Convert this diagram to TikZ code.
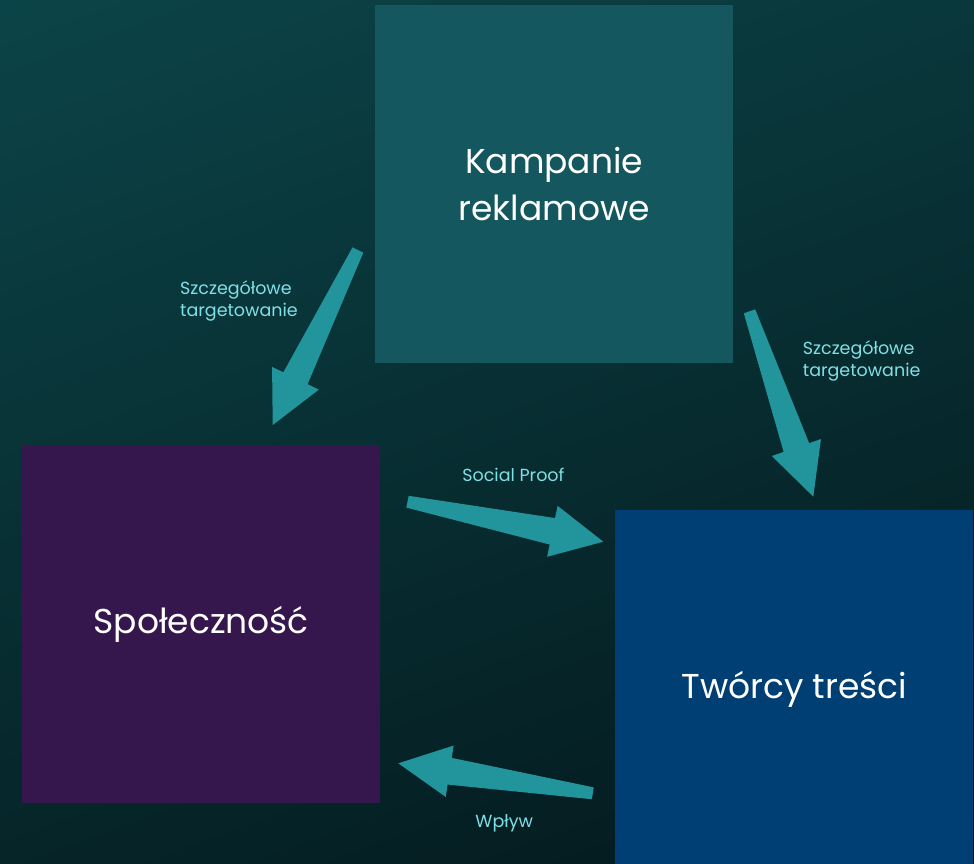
\documentclass[tikz,border=0pt]{standalone}
\usepackage{fontspec}
\setmainfont{Poppins}
\usetikzlibrary{calc}
\definecolor{bgtop}{HTML}{0C474B}
\definecolor{bgbot}{HTML}{031519}
\definecolor{kamp}{HTML}{14575E}
\definecolor{spol}{HTML}{36174D}
\definecolor{tworcy}{HTML}{003F73}
\definecolor{arr}{HTML}{21949C}
\definecolor{lbl}{HTML}{7FE0E6}
\tikzset{
  box/.style={rectangle, minimum width=358pt, minimum height=358pt, inner sep=0pt,
    text=white, font=\fontsize{34.5}{47}\selectfont, align=center, anchor=north west},
  lab/.style={text=lbl, font=\fontsize{17.5}{22}\selectfont, inner sep=0pt, align=left},
  arrowfill/.style={fill=arr},
}
\newcommand\blockarrow[2]{%
  \coordinate (bh) at ($(#2)!52pt!(#1)$);
  \fill[arrowfill] ($(#1)!6pt!90:(#2)$) -- ($(bh)!13.5pt!90:(#2)$) -- ($(bh)!26pt!90:(#2)$)
    -- (#2) -- ($(bh)!26pt!-90:(#2)$) -- ($(bh)!13.5pt!-90:(#2)$) -- ($(#1)!6pt!-90:(#2)$) -- cycle;
}
\begin{document}
\begin{tikzpicture}[x=1pt,y=-1pt]
\useasboundingbox (0,0) rectangle (974,864);
\clip (0,0) rectangle (974,864);
\shade[top color=bgtop, bottom color=bgbot, shading angle=20] (-200,-200) rectangle (1174,1064);

\node[box, fill=kamp] (kamp) at (375,5) {Kampanie\\reklamowe};
\node[box, fill=spol] (spol) at (22,445) {Społeczność};
\node[box, fill=tworcy] (tw) at (615,510) {Twórcy treści};

\coordinate (aT) at (357.9,250);   \coordinate (aP) at (272.7,425);
\coordinate (bT) at (749.5,311.3); \coordinate (bP) at (813.3,496.7);
\coordinate (cT) at (407.5,501.7); \coordinate (cP) at (603.3,541.7);
\coordinate (dT) at (592.8,793.3); \coordinate (dP) at (398.3,763.3);
\blockarrow{aT}{aP}
\blockarrow{bT}{bP}
\blockarrow{cT}{cP}
\blockarrow{dT}{dP}

\node[lab, anchor=base west] (l1) at (180,316) {Szczegółowe\\targetowanie};
\node[lab, anchor=base west] (l2) at (802.7,376) {Szczegółowe\\targetowanie};
\node[lab, anchor=base] (l3) at (513.4,481.7) {Social Proof};
\node[lab, anchor=base] (l4) at (504.2,827.3) {Wpływ};
\end{tikzpicture}
\end{document}
